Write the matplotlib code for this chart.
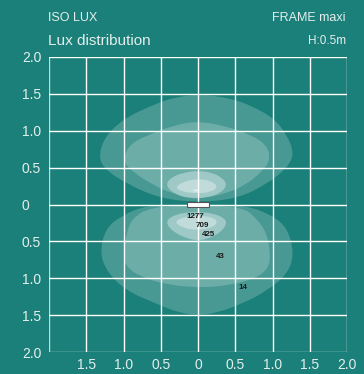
import matplotlib
matplotlib.use('Agg')
import matplotlib.pyplot as plt
from matplotlib.path import Path
from matplotlib.patches import PathPatch, Rectangle

plt.rcParams['font.family'] = ['Liberation Sans', 'DejaVu Sans']

BG = '#1b8079'
TXT = '#e4eeed'

# grid / ticks
ticks = [-2.0, -1.5, -1.0, -0.5, 0.0, 0.5, 1.0, 1.5, 2.0]
xlabels = ['', '1.5', '1.0', '0.5', '0', '0.5', '1.0', '1.5', '2.0']
ylabels = ['2.0', '1.5', '1.0', '0.5', '0', '0.5', '1.0', '1.5', '2.0']

# iso-lux outlines (x, y in metres), one list per level
upper_1 = [(0.04, 1.49), (0.4, 1.45), (0.72, 1.34), (1.03, 1.16), (1.2, 0.93), (1.29, 0.69),
           (1.2, 0.5), (0.93, 0.28), (0.53, 0.08), (0.0, 0.03), (-0.5, 0.08), (-0.96, 0.28),
           (-1.28, 0.5), (-1.33, 0.69), (-1.24, 0.93), (-1.0, 1.16), (-0.63, 1.34), (-0.3, 1.46)]
upper_2 = [(0.0, 1.13), (0.35, 1.07), (0.72, 0.94), (0.93, 0.8), (0.97, 0.6), (0.86, 0.45),
           (0.66, 0.28), (0.39, 0.15), (0.0, 0.07), (-0.36, 0.15), (-0.63, 0.28), (-0.9, 0.46),
           (-1.01, 0.6), (-0.92, 0.82), (-0.63, 0.96), (-0.3, 1.08)]
upper_3 = [(0.0, 0.46), (0.2, 0.43), (0.34, 0.35), (0.39, 0.26), (0.3, 0.15), (0.1, 0.09),
           (-0.1, 0.08), (-0.3, 0.13), (-0.44, 0.26), (-0.36, 0.37), (-0.2, 0.43)]
upper_4 = [(0.0, 0.35), (0.18, 0.32), (0.27, 0.24), (0.18, 0.17), (0.0, 0.15), (-0.2, 0.17),
           (-0.31, 0.23), (-0.2, 0.31)]
lower_1 = [(0.0, 0.0), (0.65, -0.01), (1.0, -0.15), (1.2, -0.32), (1.29, -0.66), (1.21, -0.93),
           (0.93, -1.17), (0.58, -1.35), (0.25, -1.47), (0.0, -1.5), (-0.25, -1.47), (-0.55, -1.35),
           (-0.96, -1.17), (-1.21, -0.93), (-1.32, -0.66), (-1.24, -0.32), (-1.02, -0.15), (-0.7, -0.01)]
lower_2 = [(0.0, -0.02), (0.59, -0.03), (0.79, -0.19), (0.93, -0.4), (0.97, -0.69), (0.95, -0.85),
           (0.8, -0.99), (0.45, -1.09), (0.05, -1.13), (-0.4, -1.09), (-0.75, -0.99), (-0.96, -0.85),
           (-1.01, -0.69), (-0.96, -0.4), (-0.89, -0.19), (-0.63, -0.03)]
lower_3 = [(0.0, -0.1), (0.2, -0.12), (0.35, -0.18), (0.39, -0.26), (0.3, -0.38), (0.15, -0.46),
           (0.0, -0.49), (-0.15, -0.46), (-0.32, -0.38), (-0.43, -0.26), (-0.38, -0.17), (-0.2, -0.11)]
lower_4 = [(0.0, -0.15), (0.18, -0.17), (0.27, -0.23), (0.2, -0.31), (0.0, -0.35), (-0.2, -0.32),
           (-0.32, -0.24), (-0.2, -0.17)]
spot = [(-0.03, 0.21), (0.03, 0.19), (-0.03, 0.17), (-0.08, 0.19)]

levels = [(upper_1, 0.2), (upper_2, 0.2), (upper_3, 0.35), (upper_4, 0.35),
          (lower_1, 0.2), (lower_2, 0.2), (lower_3, 0.35), (lower_4, 0.35), (spot, 0.5)]

# lux values and where they are written
lux_vals = ['1277', '709', '425', '43', '14']
lux_x = [-0.03, 0.06, 0.14, 0.3, 0.6]
lux_y = [-0.165, -0.29, -0.405, -0.70, -1.12]

# luminaire footprint
lum_w, lum_h = 0.3, 0.08


def smooth_path(pts):
    # closed quadratic bezier through midpoints of the outline points
    n = len(pts)
    mids = [((pts[i][0] + pts[(i + 1) % n][0]) / 2, (pts[i][1] + pts[(i + 1) % n][1]) / 2)
            for i in range(n)]
    verts = [mids[-1]]
    codes = [Path.MOVETO]
    for i in range(n):
        verts += [pts[i], mids[i]]
        codes += [Path.CURVE3, Path.CURVE3]
    return Path(verts, codes)


fig = plt.figure(figsize=(3.64, 3.74), dpi=100, facecolor=BG)
ax = fig.add_axes([49 / 364, 22 / 374, 298 / 364, 295 / 374])
ax.set_facecolor(BG)
ax.set_xlim(-2, 2)
ax.set_ylim(-2, 2)

for pts, a in levels:
    ax.add_patch(PathPatch(smooth_path(pts), facecolor='white', edgecolor='none',
                           alpha=a, zorder=1))

for t in ticks:
    c = '#c5d9d6' if t == -2.0 else 'white'
    ax.axvline(t, color=c, lw=1.0, zorder=2)
    ax.axhline(t, color=c, lw=1.0, zorder=2)

ax.add_patch(Rectangle((-lum_w / 2, -lum_h / 2), lum_w, lum_h, facecolor='white',
                       edgecolor='#555555', lw=0.8, zorder=3))

for v, x, y in zip(lux_vals, lux_x, lux_y):
    ax.text(x, y, v, fontsize=5.8, fontweight='bold', color='#1a1a1a',
            ha='center', va='center', zorder=4)

for s in ax.spines.values():
    s.set_visible(False)

ax.set_xticks(ticks)
ax.set_xticklabels(xlabels)
ax.set_yticks(ticks)
ax.set_yticklabels(ylabels)
ax.tick_params(length=0, labelsize=10, labelcolor=TXT)
ax.tick_params(axis='x', pad=4)
ax.tick_params(axis='y', pad=19.5)
for lab in ax.get_yticklabels():
    lab.set_horizontalalignment('left')

fig.text(48 / 364, 1 - 18 / 374, 'ISO LUX', fontsize=9, color=TXT, ha='left', va='center')
fig.text(346 / 364, 1 - 18 / 374, 'FRAME maxi', fontsize=9, color=TXT, ha='right', va='center')
fig.text(48 / 364, 1 - 41 / 374, 'Lux distribution', fontsize=11, color=TXT, ha='left', va='center')
fig.text(346 / 364, 1 - 41 / 374, 'H:0.5m', fontsize=8.5, color=TXT, ha='right', va='center')

fig.savefig('out.png', dpi=100, facecolor=BG)
